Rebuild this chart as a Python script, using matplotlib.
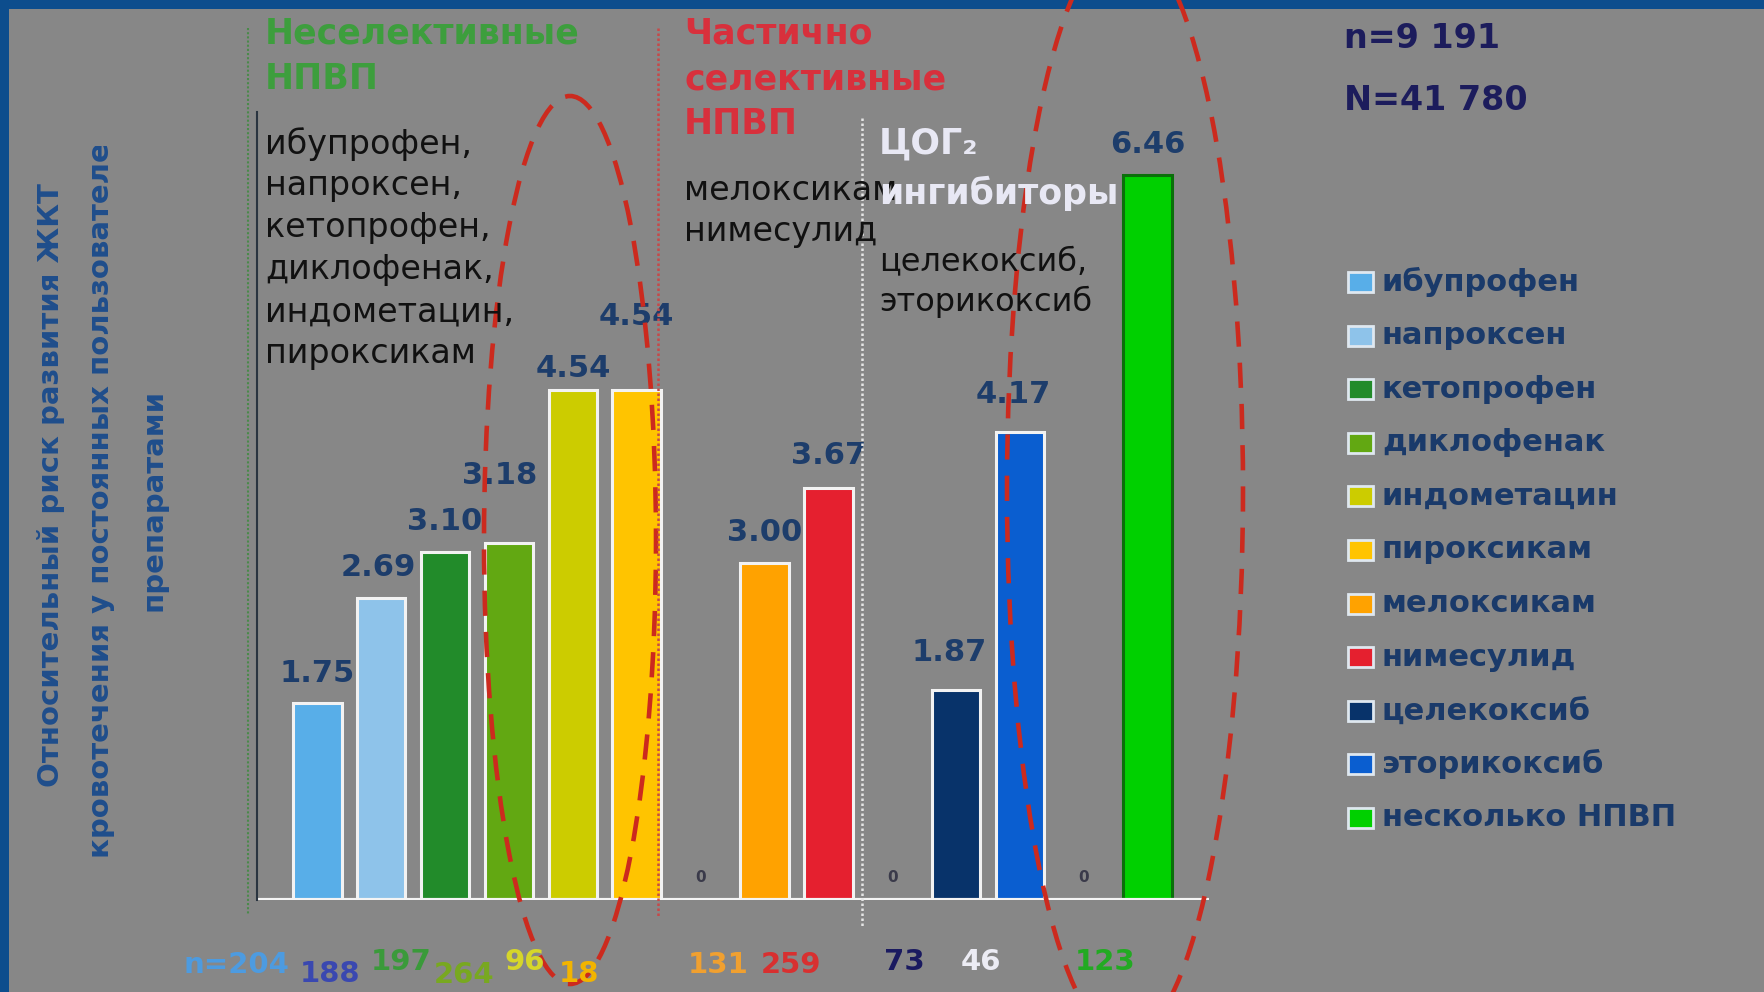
import matplotlib
matplotlib.use('Agg')
import matplotlib.pyplot as plt
from matplotlib.patches import Ellipse, Rectangle
from matplotlib.transforms import Bbox

plt.rcParams['font.family'] = ['DejaVu Sans']

# ---------------- data ----------------
drugs = ['ибупрофен', 'напроксен', 'кетопрофен', 'диклофенак', 'индометацин',
         'пироксикам', 'мелоксикам', 'нимесулид', 'целекоксиб', 'эторикоксиб',
         'несколько НПВП']
risk = [1.75, 2.69, 3.10, 3.18, 4.54, 4.54, 3.00, 3.67, 1.87, 4.17, 6.46]
risk_labels = ['1.75', '2.69', '3.10', '3.18', '4.54', '4.54', '3.00', '3.67',
               '1.87', '4.17', '6.46']
users = ['n=204', '188', '197', '264', '96', '18', '131', '259', '73', '46', '123']
group_sizes = [6, 2, 2, 1]
group_titles = ['Неселективные\nНПВП', 'Частично\nселективные\nНПВП', 'ЦОГ₂\nингибиторы']
group_members = ['ибупрофен,\nнапроксен,\nкетопрофен,\nдиклофенак,\nиндометацин,\nпироксикам',
                 'мелоксикам\nнимесулид',
                 'целекоксиб,\nэторикоксиб']
sample_text = ['n=9 191', 'N=41 780']
ylabel_lines = ['Относительный риск развития ЖКТ',
                'кровотечения у постоянных пользователей',
                'препаратами']

# ---------------- style ----------------
bar_colors = ['#58aee8', '#8ec3ea', '#228b2a', '#62a812', '#cccc00', '#ffc400',
              '#ffa200', '#e5202f', '#08336a', '#0a5ed0', '#00d000']
bar_edges = ['#f2f2f2'] * 10 + ['#0a700a']
users_colors = ['#4d9be0', '#3a48b0', '#3a9a3a', '#78a820', '#d6d62a', '#f2b400',
                '#f0a030', '#d83030', '#1a1a60', '#ececf4', '#22aa22']
BG = '#878787'
W, H = 1764, 992

fig = plt.figure(figsize=(W / 100, H / 100), dpi=100, facecolor=BG)

# bar positions: groups separated by an empty slot
pos, gaps, p = [], [], 0
for gi, size in enumerate(group_sizes):
    for _ in range(size):
        pos.append(p)
        p += 1
    if gi < len(group_sizes) - 1:
        gaps.append(p)
        p += 1

# main axes (baseline at y=900 px, from x=256 to 1209 px)
ax = fig.add_axes([256 / W, (H - 900) / H, (1209 - 256) / W, 900 / H], zorder=1)
ax.set_xlim(-0.96, 13.96)
ax.set_ylim(0, 8.014)
ax.axis('off')

ax.bar(pos, risk, width=0.76, color=bar_colors, edgecolor=bar_edges,
       linewidth=2.2, zorder=2)
ax.axhline(0, color='#f4f4f4', lw=3, zorder=3)

nudges = {1: (-0.05, 0.27), 3: (-0.14, 0.6), 4: (0, 0.19), 5: (0, 0.66),
          7: (0.0, 0.29), 8: (-0.11, 0.33), 9: (-0.11, 0.33)}
for i, (x, v, lab) in enumerate(zip(pos, risk, risk_labels)):
    dx, dy = nudges.get(i, (0, 0.27))
    ax.text(x + dx, v + dy, lab, ha='center', va='center', fontsize=22,
            fontweight='bold', color='#1d3d6b', zorder=4)
for g in gaps:
    ax.text(g, 0.2, '0', ha='center', va='center', fontsize=11,
            fontweight='bold', color='#3a3a4a')

# overlay in pixel coordinates
ov = fig.add_axes([0, 0, 1, 1], zorder=3)
ov.set_xlim(0, W)
ov.set_ylim(H, 0)
ov.axis('off')
ov.patch.set_alpha(0)

# blue frame
ov.add_patch(Rectangle((0, 0), W, 9, color='#0d4d8d', lw=0))
ov.add_patch(Rectangle((0, 0), 9, H, color='#0d4d8d', lw=0))

# separators
ov.plot([247.5, 247.5], [28, 915], color='#4a8a4a', lw=1.5, ls=(0, (1, 1)))
ov.plot([256.5, 256.5], [112, 900], color='#2a3440', lw=1.5)
ov.plot([658, 658], [28, 917], color='#c84848', lw=1.8, ls=(0, (1, 1)))
ov.plot([862, 862], [118, 928], color='#e6e6e6', lw=1.8, ls=(0, (1, 1)))


def lines(x, y0, step, text, **kw):
    for j, line in enumerate(text.split('\n')):
        ov.text(x, y0 + j * step, line, ha='left', va='center', **kw)


# group titles
lines(265, 34, 45, group_titles[0], fontsize=25, fontweight='bold', color='#3d9e3d')
lines(684, 34, 45, group_titles[1], fontsize=25, fontweight='bold', color='#d8303c')

# group members
lines(265, 144, 42, group_members[0], fontsize=24, color='#111111')
lines(684, 190, 42, group_members[1], fontsize=24, color='#111111')
lines(879, 262, 40, group_members[2], fontsize=23, color='#111111')
t1, t2 = group_titles[2].split('\n')
ov.text(879, 143, t1, ha='left', va='center', fontsize=25, fontweight='bold', color='#e8e8f4')
ov.text(879, 193, t2, ha='left', va='center', fontsize=25, fontweight='bold', color='#e8e8f4')

# sample sizes
ov.text(1344, 39, sample_text[0], ha='left', va='center', fontsize=24,
        fontweight='bold', color='#1c1c5c')
ov.text(1344, 101, sample_text[1], ha='left', va='center', fontsize=24,
        fontweight='bold', color='#1c1c5c')

# legend
for k, (name, c) in enumerate(zip(drugs, bar_colors)):
    yc = 282 + k * 53.6
    ov.add_patch(Rectangle((1348, yc - 10), 25, 20, facecolor=c,
                           edgecolor='#dfe8f0', lw=2))
    ov.text(1382, yc, name, ha='left', va='center', fontsize=22,
            fontweight='bold', color='#1a3a6a')

# user counts under bars
count_xy = [(236, 965), (330, 974), (401, 962), (464, 975), (525, 962), (579, 974),
            (718, 965), (791, 965), (904, 962), (981, 962), (1105, 962)]
for (x, y), s, c in zip(count_xy, users, users_colors):
    ov.text(x, y, s, ha='center', va='center', fontsize=21, fontweight='bold', color=c)

# red dashed ellipses
for (cx, cy, w, h) in [(570, 540, 172, 888), (1125, 490, 236, 1100)]:
    ov.add_patch(Ellipse((cx, cy), w, h, fill=False, edgecolor='#cc2a1e',
                         lw=3.3, ls=(0, (5.5, 3.5))))

# y-axis title (second line clipped at the top, as in the slide)
clip = Bbox.from_extents(0, 0, W, H - 146)
for (x, yc), line in zip([(51, 485), (101, 490), (154, 500)], ylabel_lines):
    t = ov.text(x, yc, line, rotation=90, ha='center', va='center',
                fontsize=21, fontweight='bold', color='#1f4e8c')
    t.set_clip_box(clip)
    t.set_clip_on(True)

fig.savefig('out.png', dpi=100, facecolor=BG)
